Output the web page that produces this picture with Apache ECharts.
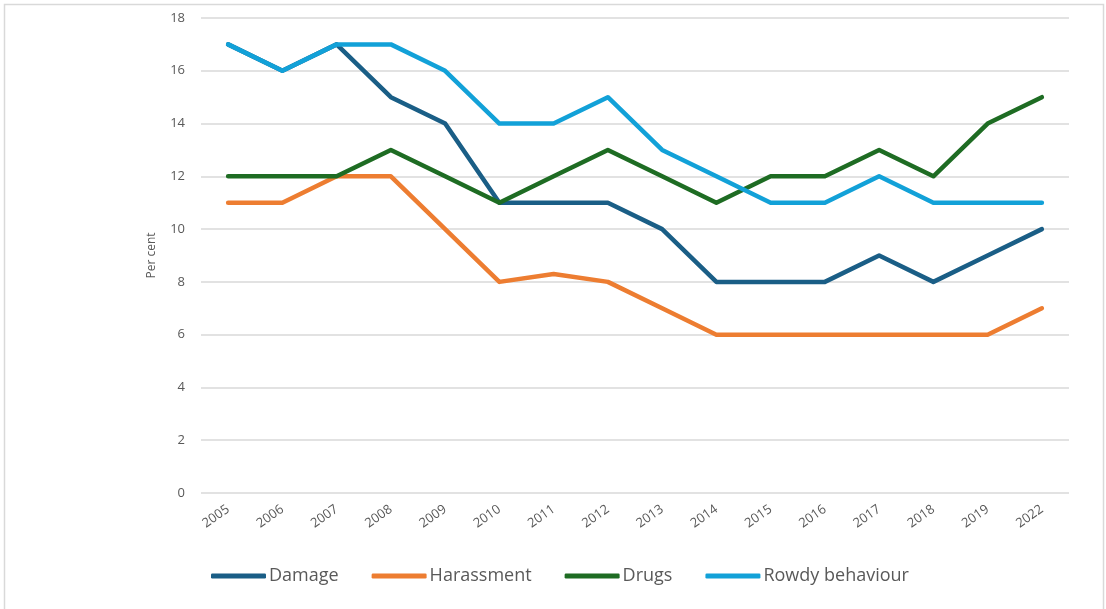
<!DOCTYPE html>
<html>
<head>
<meta charset="utf-8">
<script src="https://cdn.jsdelivr.net/npm/echarts@6/dist/echarts.min.js"></script>
<style>
  html, body { margin: 0; padding: 0; background: #ffffff; }
  #chart { width: 1106px; height: 609px; }
</style>
</head>
<body>
<div id="chart"></div>
<script>
// Survey years and share of respondents (per cent) reporting each problem
const years = ['2005','2006','2007','2008','2009','2010','2011','2012','2013','2014','2015','2016','2017','2018','2019','2022'];
const damage     = [17, 16, 17, 15, 14, 11, 11, 11, 10, 8, 8, 8, 9, 8, 9, 10];
const harassment = [11, 11, 12, 12, 10, 8, 8.3, 8, 7, 6, 6, 6, 6, 6, 6, 7];
const drugs      = [12, 12, 12, 13, 12, 11, 12, 13, 12, 11, 12, 12, 13, 12, 14, 15];
const rowdy      = [17, 16, 17, 17, 16, 14, 14, 15, 13, 12, 11, 11, 12, 11, 11, 11];

const seriesNames = ['Damage', 'Harassment', 'Drugs', 'Rowdy behaviour'];
const seriesData = [damage, harassment, drugs, rowdy];
const colors = ['#1a5e86', '#ed7d31', '#1e6c23', '#12a1d8'];

const font = '"Open Sans", "Noto Sans", sans-serif';
const chart = echarts.init(document.getElementById('chart'), null, { renderer: 'canvas' });

chart.setOption({
  animation: false,
  backgroundColor: '#ffffff',
  color: colors,
  graphic: [{
    type: 'rect',
    shape: { x: 4.5, y: 4.5, width: 1099, height: 620 },
    style: { fill: 'none', stroke: '#d9d9d9', lineWidth: 1.5 },
    silent: true
  }],
  grid: { left: 201, right: 37, top: 18, bottom: 116 },
  legend: {
    top: 562,
    left: 206,
    icon: 'roundRect',
    itemWidth: 55,
    itemHeight: 5,
    itemGap: 33,
    textStyle: { fontFamily: font, fontSize: 18, color: '#595959', padding: [0, 0, 0, -2] },
    data: seriesNames
  },
  xAxis: {
    type: 'category',
    data: years,
    boundaryGap: true,
    axisLine: { show: false },
    axisTick: { show: false },
    axisLabel: { rotate: 35, margin: 15, fontFamily: font, fontSize: 13, color: '#595959' }
  },
  yAxis: {
    type: 'value',
    min: 0,
    max: 18,
    interval: 2,
    name: 'Per cent',
    nameLocation: 'middle',
    nameGap: 43,
    nameRotate: 90,
    nameTextStyle: { fontFamily: font, fontSize: 12, color: '#595959' },
    axisLine: { show: false },
    axisTick: { show: false },
    axisLabel: { margin: 16, fontFamily: font, fontSize: 13, color: '#595959' },
    splitLine: { lineStyle: { color: '#d9d9d9', width: 1.5 } }
  },
  series: seriesNames.map((name, i) => ({
    name: name,
    type: 'line',
    data: seriesData[i],
    symbol: 'none',
    lineStyle: { width: 4.5, color: colors[i], cap: 'round', join: 'round' },
    itemStyle: { color: colors[i] }
  }))
});
</script>
</body>
</html>
